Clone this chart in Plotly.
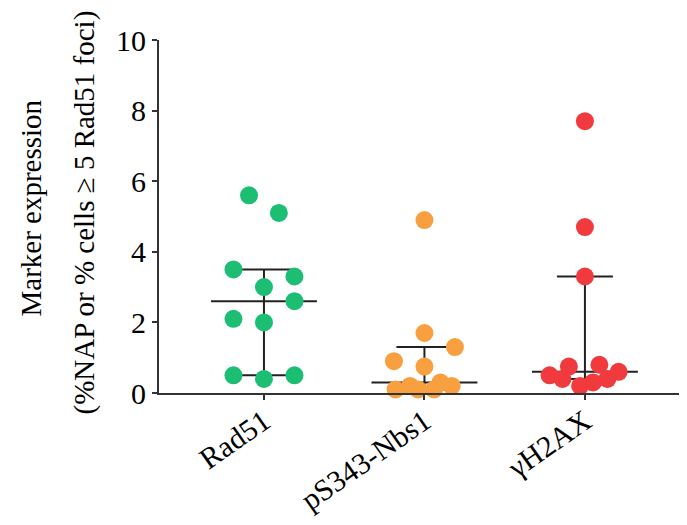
import numpy as np
import plotly.graph_objects as go

# ---- data ----
categories = ["Rad51", "pS343-Nbs1", "γH2AX"]
rad51_values = [5.6, 5.1, 3.5, 3.3, 3.0, 2.6, 2.1, 2.0, 0.5, 0.4, 0.5]
nbs1_values = [4.9, 1.7, 1.3, 0.9, 0.75, 0.1, 0.2, 0.1, 0.1, 0.3, 0.2]
h2ax_values = [7.7, 4.7, 3.3, 0.5, 0.75, 0.4, 0.2, 0.3, 0.8, 0.4, 0.6]
y_ticks = [0, 2, 4, 6, 8, 10]

# ---- layout-only jitter offsets (category units) ----
rad51_jitter = [-0.093, 0.093, -0.19, 0.19, 0.0, 0.19, -0.19, 0.0, -0.19, 0.0, 0.19]
nbs1_jitter = [0.0, 0.0, 0.19, -0.19, 0.0, -0.18, -0.09, -0.04, 0.06, 0.10, 0.17]
h2ax_jitter = [0.0, 0.0, 0.0, -0.22, -0.10, -0.14, -0.03, 0.05, 0.09, 0.14, 0.21]

colors = ["#1CBE74", "#F8A040", "#F03A3E"]
series = [rad51_values, nbs1_values, h2ax_values]
jitters = [rad51_jitter, nbs1_jitter, h2ax_jitter]

fig = go.Figure()
line_col = "#222222"
med_half = 0.33

for i, vals in enumerate(series):
    v = np.array(vals)
    q1, med, q3 = np.percentile(v, [25, 50, 75], method="weibull")
    # median line
    fig.add_trace(go.Scatter(
        x=[i - med_half, i + med_half], y=[med, med], mode="lines",
        line=dict(color=line_col, width=2), showlegend=False, hoverinfo="skip"))
    # interquartile bar
    fig.add_trace(go.Scatter(
        x=[i], y=[med], mode="markers", marker=dict(size=1, color="rgba(0,0,0,0)"),
        error_y=dict(type="data", symmetric=False, array=[q3 - med], arrayminus=[med - q1],
                     color=line_col, thickness=2, width=28),
        showlegend=False, hoverinfo="skip", cliponaxis=False))

for i, vals in enumerate(series):
    fig.add_trace(go.Scatter(
        x=[i + j for j in jitters[i]], y=vals, mode="markers",
        marker=dict(size=18, color=colors[i], line=dict(width=0)),
        showlegend=False, cliponaxis=False, name=categories[i]))

font_family = "Liberation Serif"

fig.update_layout(
    width=679, height=517,
    margin=dict(l=151, r=0, t=32, b=132, autoexpand=False),
    plot_bgcolor="white", paper_bgcolor="white",
    font=dict(family=font_family, color="black"),
    xaxis=dict(
        range=[-0.654, 2.636], tickvals=[0, 1, 2], ticktext=categories,
        tickangle=-35, tickfont=dict(size=30, family=font_family, color="black"),
        ticklabelstandoff=-8,
        showgrid=False, zeroline=False, showline=True, linecolor="#333333", linewidth=2,
        ticks="outside", ticklen=5, tickwidth=2, tickcolor="#333333", automargin=False),
    yaxis=dict(
        range=[0, 10], tickvals=y_ticks, ticktext=[str(t) for t in y_ticks],
        tickfont=dict(size=30, family=font_family, color="black"),
        showgrid=False, zeroline=False, showline=True, linecolor="#333333", linewidth=2,
        ticks="outside", ticklen=5, tickwidth=2, tickcolor="#333333", automargin=False),
    annotations=[
        dict(text="Marker expression", xref="paper", yref="paper", x=0, y=0.5,
             xshift=-129, yshift=8, textangle=-90, showarrow=False,
             xanchor="center", yanchor="middle",
             font=dict(size=29, family=font_family, color="black")),
        dict(text="(%NAP or % cells ≥ 5 Rad51 foci)", xref="paper", yref="paper", x=0, y=0.5,
             xshift=-75, yshift=4, textangle=-90, showarrow=False,
             xanchor="center", yanchor="middle",
             font=dict(size=29, family=font_family, color="black")),
    ],
)

fig.write_html("out.html")
